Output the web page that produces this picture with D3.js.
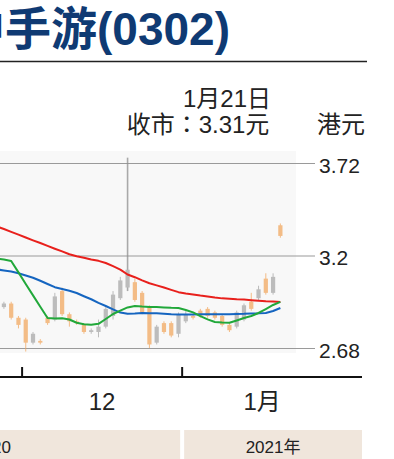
<!DOCTYPE html>
<html>
<head>
<meta charset="utf-8">
<script src="https://cdn.jsdelivr.net/npm/d3@7"></script>
<style>
  body { margin: 0; background: #fff; }
</style>
</head>
<body>
<div id="chart"></div>
<script>
// trading days shown (first few fall off the left edge of the crop)
const dates = [
  "2020-11-25", "2020-11-26", "2020-11-27", "2020-11-30",
  "2020-12-01", "2020-12-02", "2020-12-03", "2020-12-04", "2020-12-07", "2020-12-08",
  "2020-12-09", "2020-12-10", "2020-12-11", "2020-12-14", "2020-12-15", "2020-12-16",
  "2020-12-17", "2020-12-18", "2020-12-21", "2020-12-22", "2020-12-23", "2020-12-24",
  "2020-12-28", "2020-12-29", "2020-12-30", "2020-12-31",
  "2021-01-04", "2021-01-05", "2021-01-06", "2021-01-07", "2021-01-08", "2021-01-11",
  "2021-01-12", "2021-01-13", "2021-01-14", "2021-01-15", "2021-01-18", "2021-01-19",
  "2021-01-20", "2021-01-21"
];
const open  = [2.93, 2.91, 2.93, 2.85, 2.84, 2.71, 2.72, 2.85, 2.84, 3.00, 2.87, 2.83, 2.81, 2.77, 2.77, 2.80, 2.86, 2.96, 3.02, 3.05,
               2.99, 2.91, 2.71, 2.82, 2.82, 2.76, 2.83, 2.86, 2.89, 2.90, 2.88, 2.86, 2.81, 2.80, 2.84, 2.94, 2.96, 3.07, 2.99, 3.37];
const high  = [2.96, 2.94, 2.94, 2.86, 2.85, 2.77, 2.73, 2.86, 2.99, 3.02, 2.88, 2.84, 2.82, 2.79, 2.84, 2.91, 3.00, 3.08, 3.75, 3.07,
               3.00, 2.92, 2.81, 2.83, 2.83, 2.88, 2.89, 2.87, 2.90, 2.91, 2.89, 2.87, 2.82, 2.89, 2.93, 2.99, 3.03, 3.10, 3.10, 3.38];
const low   = [2.92, 2.90, 2.84, 2.79, 2.66, 2.70, 2.70, 2.81, 2.83, 2.86, 2.80, 2.81, 2.76, 2.76, 2.74, 2.79, 2.84, 2.95, 3.00, 2.94,
               2.87, 2.68, 2.70, 2.76, 2.74, 2.74, 2.82, 2.84, 2.85, 2.85, 2.84, 2.80, 2.77, 2.79, 2.83, 2.89, 2.95, 2.98, 2.98, 3.30];
const close = [2.95, 2.93, 2.85, 2.81, 2.71, 2.76, 2.71, 2.82, 2.97, 2.87, 2.83, 2.82, 2.77, 2.78, 2.80, 2.90, 2.98, 3.06, 3.12, 2.95,
               2.88, 2.70, 2.80, 2.77, 2.75, 2.87, 2.87, 2.85, 2.86, 2.86, 2.85, 2.81, 2.78, 2.88, 2.92, 2.90, 3.01, 2.99, 3.08, 3.31];

// moving averages
const ma10 = [3.183, 3.178, 3.169, 3.105, 3.040, 2.976, 2.912, 2.849, 2.846, 2.847, 2.840, 2.822, 2.813, 2.811, 2.816, 2.843, 2.871, 2.890, 2.908, 2.916,
              2.913, 2.911, 2.910, 2.908, 2.906, 2.905, 2.894, 2.880, 2.859, 2.841, 2.826, 2.823, 2.822, 2.835, 2.849, 2.860, 2.877, 2.899, 2.922, 2.939];
const ma20 = [3.122, 3.116, 3.110, 3.100, 3.088, 3.075, 3.058, 3.040, 3.022, 3.012, 3.002, 2.989, 2.971, 2.954, 2.934, 2.916, 2.897, 2.879, 2.872, 2.874,
              2.877, 2.876, 2.875, 2.873, 2.870, 2.868, 2.868, 2.869, 2.870, 2.870, 2.870, 2.870, 2.870, 2.871, 2.872, 2.874, 2.875, 2.877, 2.888, 2.905];
const ma50 = [3.364, 3.349, 3.333, 3.317, 3.301, 3.285, 3.270, 3.254, 3.238, 3.223, 3.207, 3.196, 3.187, 3.178, 3.170, 3.158, 3.140, 3.121, 3.093, 3.078,
              3.060, 3.044, 3.032, 3.020, 3.007, 2.994, 2.986, 2.981, 2.975, 2.970, 2.964, 2.959, 2.957, 2.954, 2.952, 2.949, 2.946, 2.943, 2.941, 2.939];

const yTicks = [2.68, 3.2, 3.72];
const monthStarts = ["2020-12-01", "2021-01-04"];
const monthLabels = ["12", "1月"];
const lastDate = "1月21日";
const lastClose = "收市：3.31元";
const unit = "港元";
const years = ["2020", "2021年"];
const title = "中手游(0302)";

const W = 394, H = 459;
const font = "'Liberation Sans','Noto Sans CJK TC',sans-serif";

let svg = d3.select("#chart")
  .append("svg")
    .attr("width", W)
    .attr("height", H);

// title + rule
svg.append("text")
  .attr("x", 230).attr("y", 45)
  .attr("text-anchor", "end")
  .attr("font-family", font)
  .attr("font-weight", "bold")
  .attr("font-size", 46)
  .attr("fill", "#0f3a73")
  .text(title);

svg.append("line")
  .attr("x1", 0).attr("x2", 367)
  .attr("y1", 61.5).attr("y2", 61.5)
  .attr("stroke", "#222").attr("stroke-width", 1.3);

// scales
let x = d3.scalePoint()
  .domain(dates)
  .range([-7, 284])
  .padding(0.5);
let step = x.step();

let y = d3.scaleLinear()
  .domain([2.68, 3.72])
  .range([348, 163]);

// faint plot panel
svg.append("rect")
  .attr("x", 0).attr("y", 151)
  .attr("width", 296).attr("height", 202)
  .attr("fill", "#f8f8f8");

// gridlines + labels
let grid = svg.append("g");
grid.selectAll("line")
  .data(yTicks)
  .enter().append("line")
    .attr("x1", 0).attr("x2", 315)
    .attr("y1", d => y(d) + 0.5).attr("y2", d => y(d) + 0.5)
    .attr("stroke", "#9a9a9a").attr("stroke-width", 1.2);
grid.selectAll("text")
  .data(yTicks)
  .enter().append("text")
    .attr("x", 319)
    .attr("y", d => y(d) + 9.5)
    .attr("font-family", font)
    .attr("font-size", 21)
    .attr("fill", "#222")
    .text(d => d);

// candles
let candles = dates.map((d, i) => ({date: d, o: open[i], h: high[i], l: low[i], c: close[i]}));
let up = "#a8a8a8", down = "#f2a860";
let bw = step * 0.58;

let cg = svg.append("g").attr("opacity", 0.75);
cg.selectAll("line")
  .data(candles)
  .enter().append("line")
    .attr("x1", d => x(d.date)).attr("x2", d => x(d.date))
    .attr("y1", d => y(d.h)).attr("y2", d => y(d.l))
    .attr("stroke", d => d.h - Math.max(d.o, d.c) > 0.3 ? "#8f8f8f" : (d.c >= d.o ? up : down))
    .attr("stroke-width", d => d.h - Math.max(d.o, d.c) > 0.3 ? 1.6 : 1);
cg.selectAll("rect")
  .data(candles)
  .enter().append("rect")
    .attr("x", d => x(d.date) - bw / 2)
    .attr("y", d => y(Math.max(d.o, d.c)))
    .attr("width", bw)
    .attr("height", d => Math.max(1.5, Math.abs(y(d.o) - y(d.c))))
    .attr("fill", d => d.c >= d.o ? up : down);

// moving averages
let maLine = arr => d3.line()
  .x((d, i) => x(dates[i]))
  .y(d => y(d))(arr);

[[ma50, "#e8201c"], [ma20, "#1565c0"], [ma10, "#21a83a"]].forEach(([arr, col]) => {
  svg.append("path")
    .attr("d", maLine(arr))
    .attr("fill", "none")
    .attr("stroke", col)
    .attr("stroke-width", 2)
    .attr("stroke-linejoin", "round");
});

// annotation
svg.append("text")
  .attr("x", 227).attr("y", 107)
  .attr("text-anchor", "middle")
  .attr("font-family", font).attr("font-size", 24).attr("fill", "#222")
  .text(lastDate);
svg.append("text")
  .attr("x", 198).attr("y", 133)
  .attr("text-anchor", "middle")
  .attr("font-family", font).attr("font-size", 24).attr("fill", "#222")
  .text(lastClose);
svg.append("text")
  .attr("x", 317).attr("y", 133)
  .attr("font-family", font).attr("font-size", 24).attr("fill", "#222")
  .text(unit);

// x axis
let axisY = 377;
svg.append("line")
  .attr("x1", 0).attr("x2", 362)
  .attr("y1", axisY).attr("y2", axisY)
  .attr("stroke", "#111").attr("stroke-width", 2);

let tickX = monthStarts.map(d => x(d) - step / 2);
let monthW = tickX[1] - tickX[0];
svg.append("g").selectAll("line")
  .data(tickX)
  .enter().append("line")
    .attr("x1", d => d).attr("x2", d => d)
    .attr("y1", axisY - 10).attr("y2", axisY)
    .attr("stroke", "#111").attr("stroke-width", 2);
svg.append("g").selectAll("text")
  .data(monthLabels)
  .enter().append("text")
    .attr("x", (d, i) => tickX[i] + monthW / 2)
    .attr("y", 410)
    .attr("text-anchor", "middle")
    .attr("font-family", font).attr("font-size", 24).attr("fill", "#222")
    .text(d => d);

// year band
let bandY = 430, bandH = 29;
svg.append("rect")
  .attr("x", 0).attr("y", bandY)
  .attr("width", tickX[1] - 2).attr("height", bandH)
  .attr("fill", "#f0e6dc");
svg.append("rect")
  .attr("x", tickX[1] + 2).attr("y", bandY)
  .attr("width", 362 - tickX[1] - 2).attr("height", bandH)
  .attr("fill", "#f0e6dc");
svg.append("text")
  .attr("x", 11).attr("y", 453)
  .attr("text-anchor", "end")
  .attr("font-family", font).attr("font-size", 17).attr("fill", "#222")
  .text(years[0]);
svg.append("text")
  .attr("x", (tickX[1] + 2 + 362) / 2).attr("y", 453)
  .attr("text-anchor", "middle")
  .attr("font-family", font).attr("font-size", 17).attr("fill", "#222")
  .text(years[1]);
</script>
</body>
</html>
